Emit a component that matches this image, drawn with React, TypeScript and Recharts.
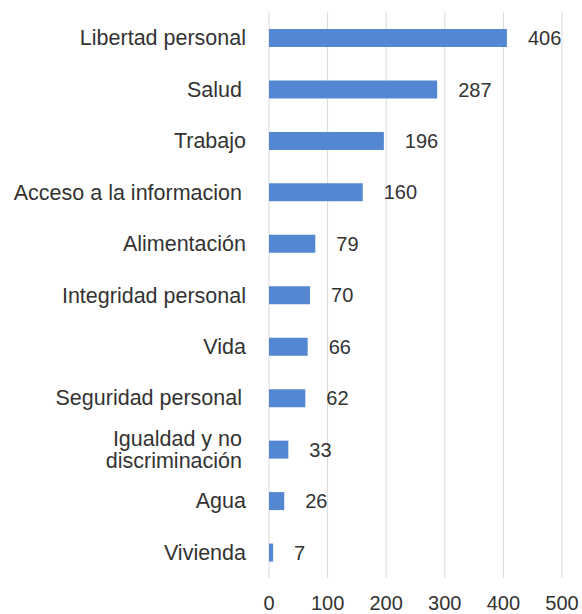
import React from 'react';
import { BarChart, Bar, XAxis, YAxis, CartesianGrid, LabelList } from 'recharts';

const categories = [
  'Libertad personal',
  'Salud ',
  'Trabajo',
  'Acceso a la informacion ',
  'Alimentación',
  'Integridad personal',
  'Vida',
  'Seguridad personal ',
  'Igualdad y no\ndiscriminación ',
  'Agua',
  'Vivienda',
];
const values = [406, 287, 196, 160, 79, 70, 66, 62, 33, 26, 7];
const xTicks = [0, 100, 200, 300, 400, 500];

const data = categories.map((name, i) => ({ name, value: values[i] }));

const textColor = '#333333';
const font = 'Liberation Sans, Arial, sans-serif';

const CategoryTick = (props: any) => {
  const { x, y, payload } = props;
  const raw: string = payload.value;
  const trailing = raw.endsWith(' ') ? 4 : 0;
  const lines = raw.trim().split('\n');
  const lineHeight = 22;
  const startY = y - ((lines.length - 1) * lineHeight) / 2;
  const tx = x - 23 - trailing;
  return (
    <text x={tx} y={startY} textAnchor="end" fill={textColor} fontSize={21.5} fontFamily={font}>
      {lines.map((line, i) => (
        <tspan key={i} x={tx} y={startY + i * lineHeight} dy="0.35em">
          {line}
        </tspan>
      ))}
    </text>
  );
};

export default function App() {
  return (
    <div style={{ width: 582, height: 614 }}>
      <style>{'body{margin:0}'}</style>
      <BarChart
        width={582}
        height={614}
        data={data}
        layout="vertical"
        margin={{ top: 12, right: 20, bottom: 0, left: 0 }}
      >
        <CartesianGrid horizontal={false} stroke="#d9d9d9" />
        <XAxis
          type="number"
          domain={[0, 500]}
          ticks={xTicks}
          axisLine={false}
          tickLine={false}
          tickSize={0}
          tickMargin={18}
          height={36}
          tick={{ fill: textColor, fontSize: 20, fontFamily: font }}
        />
        <YAxis
          type="category"
          dataKey="name"
          width={269}
          axisLine={false}
          tickLine={false}
          tickSize={0}
          tickMargin={0}
          interval={0}
          tick={<CategoryTick />}
        />
        <Bar dataKey="value" fill="#5387d1" barSize={18} isAnimationActive={false}>
          <LabelList
            dataKey="value"
            position="right"
            offset={21}
            fill={textColor}
            fontSize={20}
            fontFamily={font}
          />
        </Bar>
      </BarChart>
    </div>
  );
}
